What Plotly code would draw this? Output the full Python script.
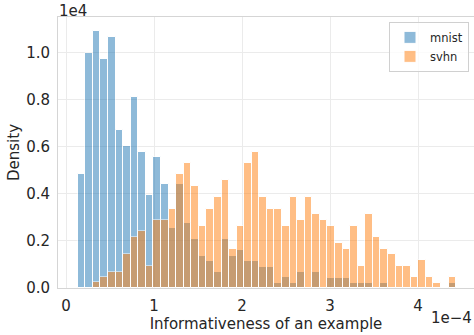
import numpy as np
import plotly.graph_objects as go

# Histogram bins shared by both datasets (x in units of 1e-4)
BIN_START = 0.133
BIN_WIDTH = 0.086
N_BINS = 50

# Density per bin (in units of 1e4)
mnist_density = [
    0.486, 1.000, 1.092, 0.976, 1.069, 0.674, 0.603, 0.813, 0.579, 0.394,
    0.556, 0.441, 0.254, 0.441, 0.278, 0.208, 0.137, 0.115, 0.068, 0.208,
    0.137, 0.162, 0.115, 0.115, 0.091, 0.091, 0.021, 0.045, 0.021, 0.068,
    0.000, 0.068, 0.000, 0.044, 0.044, 0.044, 0.021, 0.021, 0.021, 0.000,
    0.021, 0.000, 0.000, 0.000, 0.000, 0.000, 0.000, 0.000, 0.000, 0.021,
]
svhn_density = [
    0.000, 0.000, 0.024, 0.048, 0.070, 0.070, 0.143, 0.217, 0.243, 0.095,
    0.289, 0.289, 0.336, 0.483, 0.531, 0.434, 0.264, 0.336, 0.386, 0.460,
    0.167, 0.264, 0.531, 0.579, 0.386, 0.336, 0.336, 0.264, 0.386, 0.289,
    0.386, 0.314, 0.289, 0.264, 0.191, 0.167, 0.264, 0.094, 0.314, 0.216,
    0.167, 0.143, 0.094, 0.094, 0.045, 0.119, 0.045, 0.021, 0.000, 0.045,
]

x_ticks = [0, 1, 2, 3, 4]
y_ticks = [0.0, 0.2, 0.4, 0.6, 0.8, 1.0]

centers = BIN_START + BIN_WIDTH * (np.arange(N_BINS) + 0.5)

FONT = "DejaVu Sans"
TEXT = "#262626"
GRID = "#ebebeb"
SPINE = "#d5d5d5"

fig = go.Figure()
for name, vals, color in [
    ("mnist", mnist_density, "#1f77b4"),
    ("svhn", svhn_density, "#ff7f0e"),
]:
    fig.add_trace(go.Bar(
        x=centers, y=vals, width=BIN_WIDTH, name=name,
        marker=dict(color=color, line=dict(color="white", width=1)),
        opacity=0.5,
    ))

fig.update_layout(
    width=474, height=335,
    margin=dict(l=58, r=0, t=17, b=47),
    barmode="overlay", bargap=0,
    plot_bgcolor="white", paper_bgcolor="white",
    font=dict(family=FONT, size=15, color=TEXT),
    legend=dict(
        x=0.988, y=0.982, xanchor="right", yanchor="top",
        bgcolor="rgba(255,255,255,0.8)", bordercolor="#d0d0d0", borderwidth=1,
        font=dict(size=11.5, color=TEXT), itemwidth=30,
        tracegroupgap=0,
    ),
    xaxis=dict(
        range=[-0.091, 4.636], tickvals=x_ticks,
        ticktext=[str(v) for v in x_ticks],
        showgrid=True, gridcolor=GRID, zeroline=False,
        showline=True, linecolor=SPINE, mirror=True, linewidth=1,
        ticks="outside", ticklen=4, tickcolor="rgba(0,0,0,0)",
        title=dict(text="Informativeness of an example", standoff=0,
                   font=dict(size=15)),
    ),
    yaxis=dict(
        range=[0, 1.153], tickvals=y_ticks,
        ticktext=[f"{v:.1f}" for v in y_ticks],
        showgrid=True, gridcolor=GRID, zeroline=False,
        showline=True, linecolor=SPINE, mirror=True, linewidth=1,
        ticks="outside", ticklen=4, tickcolor="rgba(0,0,0,0)",
        title=dict(text="Density", standoff=2, font=dict(size=15)),
    ),
)

# Axis scale factors
fig.add_annotation(text="1e4", xref="paper", yref="paper", x=0, y=1,
                   xanchor="left", yanchor="top", showarrow=False,
                   font=dict(size=15, color=TEXT), yshift=17, xshift=-1)
fig.add_annotation(text="1e\u22124", xref="paper", yref="paper", x=1, y=0,
                   xanchor="right", yanchor="top", showarrow=False,
                   font=dict(size=15, color=TEXT), yshift=-19)

fig.write_html("out.html")
